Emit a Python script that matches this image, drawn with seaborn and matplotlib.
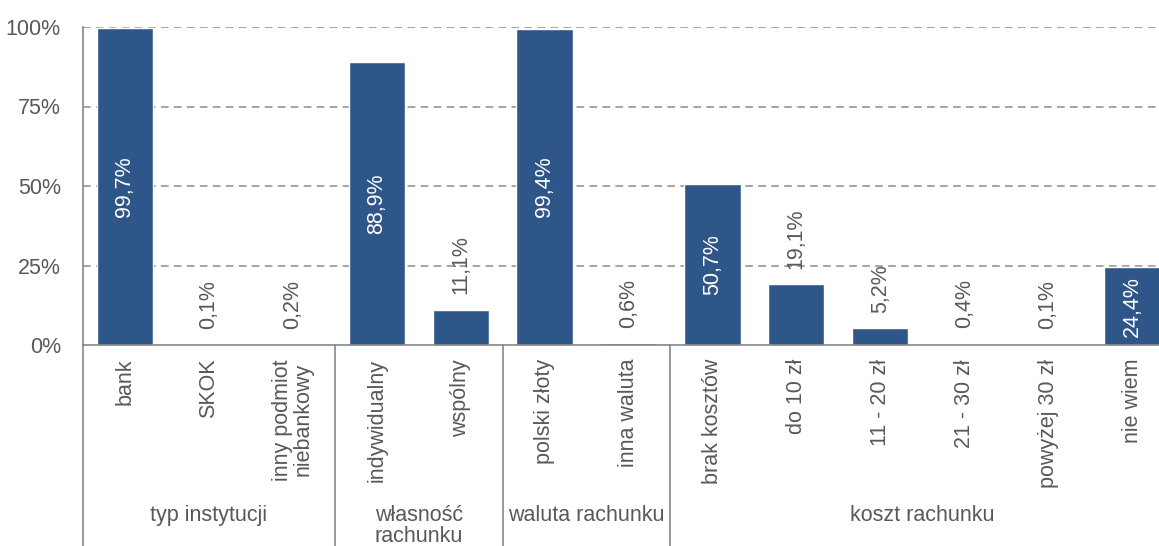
import matplotlib
matplotlib.use("Agg")
import matplotlib.pyplot as plt
import matplotlib.transforms as mtransforms
import seaborn as sns
import pandas as pd
import numpy as np

sns.set_style("white")
plt.rcParams['font.family'] = ['Liberation Sans', 'DejaVu Sans']

# ---- data ----
categories = ["bank", "SKOK", "inny podmiot\nniebankowy",
              "indywidualny", "wspólny",
              "polski złoty", "inna waluta",
              "brak kosztów", "do 10 zł", "11 - 20 zł", "21 - 30 zł",
              "powyżej 30 zł", "nie wiem"]
values = [99.7, 0.1, 0.2,
          88.9, 11.1,
          99.4, 0.6,
          50.7, 19.1, 5.2, 0.4, 0.1, 24.4]
value_labels = ["99,7%", "0,1%", "0,2%",
                "88,9%", "11,1%",
                "99,4%", "0,6%",
                "50,7%", "19,1%", "5,2%", "0,4%", "0,1%", "24,4%"]
groups = ["typ instytucji", "własność\nrachunku", "waluta rachunku", "koszt rachunku"]
group_sizes = [3, 2, 2, 6]
yticks = [0, 25, 50, 75, 100]
ytick_labels = ["0%", "25%", "50%", "75%", "100%"]

BAR = "#2F5689"
TXT = "#595959"
SPINE = "#868686"

df = pd.DataFrame({"cat": categories, "val": values})

W, H = 1159, 546
fig = plt.figure(figsize=(W / 100, H / 100), dpi=100)
ax = fig.add_axes([83 / W, 201 / H, 1091 / W, 318 / H])

sns.barplot(data=df, x="cat", y="val", color=BAR, saturation=1, width=0.67, ax=ax)

ax.set_xlim(-0.5, len(categories) - 0.5)
ax.set_ylim(0, 100)
ax.set_yticks(yticks)
ax.set_yticklabels(ytick_labels, fontsize=15.5, color=TXT)
ax.tick_params(axis="y", length=0, pad=16)
ax.set_xlabel("")
ax.set_ylabel("")
ax.set_xticks(range(len(categories)))
ax.set_xticklabels(categories, rotation=90, fontsize=15.5, color=TXT,
                   va="top", ha="center", linespacing=0.95)
ax.tick_params(axis="x", length=0, pad=10)

for yv in yticks[1:]:
    ax.axhline(yv, color="#8C8C8C", linestyle=(0, (5, 3.5)), linewidth=1.1, zorder=0)

for s in ["top", "right"]:
    ax.spines[s].set_visible(False)
for s in ["left", "bottom"]:
    ax.spines[s].set_color(SPINE)
    ax.spines[s].set_linewidth(1.2)

# value labels
for i, (v, lab) in enumerate(zip(values, value_labels)):
    if v >= 20:
        ax.text(i, v / 2, lab, rotation=90, ha="center", va="center",
                fontsize=15.5, color="white")
    else:
        ax.annotate(lab, (i, v), xytext=(0, 11), textcoords="offset points",
                    rotation=90, ha="center", va="bottom", fontsize=15.5, color=TXT)

# group separators and labels
trans = mtransforms.blended_transform_factory(ax.transData, ax.transAxes)
bounds = np.concatenate([[0], np.cumsum(group_sizes)]) - 0.5
for b in bounds[:-1]:
    ax.plot([b, b], [0, -0.7], transform=trans, color=SPINE, linewidth=1.2,
            clip_on=False)
for gi, g in enumerate(groups):
    c = (bounds[gi] + bounds[gi + 1]) / 2
    ax.text(c, -160 / 318, g, transform=trans, ha="center", va="top",
            fontsize=15.5, color=TXT, linespacing=1.0)

fig.savefig("out.png", dpi=100)
